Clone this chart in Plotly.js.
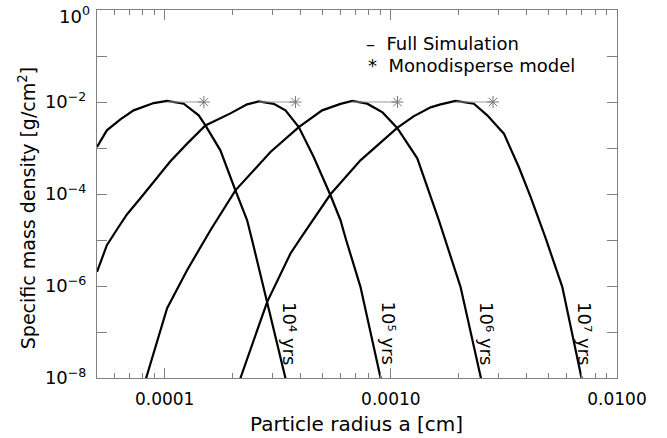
<!DOCTYPE html>
<html>
<head>
<meta charset="utf-8">
<script src="https://cdn.plot.ly/plotly-3.0.1.min.js"></script>
<style>html,body{margin:0;padding:0;background:#fff;}#chart{width:667px;height:438px;}</style>
</head>
<body>
<div id="chart"></div>
<script>
// Full simulation curves (particle radius [cm], specific mass density [g/cm^2])
const radius1e4 = [5.02e-5, 5.55e-5, 6.37e-5, 7.29e-5, 8.94e-5, 1.025e-4, 1.214e-4, 1.414e-4, 1.514e-4, 1.763e-4, 2.055e-4, 2.315e-4, 2.436e-4, 2.84e-4, 3.42e-4, 3.6e-4];
const density1e4 = [1.05e-3, 2.42e-3, 4.2e-3, 6.58e-3, 9.48e-3, 1.057e-2, 9.2e-3, 5.12e-3, 3.1e-3, 8.9e-4, 1.2e-4, 2.69e-5, 9.9e-6, 4.53e-7, 9.8e-9, 3.5e-9];

const radius1e5 = [5.02e-5, 5.55e-5, 6.16e-5, 6.82e-5, 7.81e-5, 9.10e-5, 1.06e-4, 1.26e-4, 1.514e-4, 1.953e-4, 2.315e-4, 2.606e-4, 3.035e-4, 3.42e-4, 3.917e-4, 4.56e-4, 5.41e-4, 5.99e-4, 6.31e-4, 7.34e-4, 9.0e-4, 9.38e-4];
const density1e5 = [2.03e-6, 7.7e-6, 1.71e-5, 3.63e-5, 8.09e-5, 2.09e-4, 5.14e-4, 1.26e-3, 3.1e-3, 5.66e-3, 8.87e-3, 1.03e-2, 9.1e-3, 6.58e-3, 2.85e-3, 6.37e-4, 9.4e-5, 2.69e-5, 1.09e-5, 9.6e-7, 1.02e-8, 4.1e-9];

const radius1e6 = [7.97e-5, 8.28e-5, 1.025e-4, 1.256e-4, 1.593e-4, 2.055e-4, 2.936e-4, 3.917e-4, 4.97e-4, 5.99e-4, 6.75e-4, 7.86e-4, 9.19e-4, 1.067e-3, 1.309e-3, 1.63e-3, 2.033e-3, 2.494e-3, 2.6e-3];
const density1e6 = [5.5e-9, 1.0e-8, 3.3e-7, 2.21e-6, 1.63e-5, 1.2e-4, 8.18e-4, 2.85e-3, 6.58e-3, 9.1e-3, 1.057e-2, 9.2e-3, 5.95e-3, 2.74e-3, 5.97e-4, 2.69e-5, 9.6e-7, 1.05e-8, 4.3e-9];

const radius1e7 = [2.076e-4, 2.163e-4, 2.84e-4, 3.6e-4, 3.985e-4, 5.41e-4, 7.34e-4, 1.067e-3, 1.26e-3, 1.499e-3, 1.66e-3, 1.933e-3, 2.329e-3, 2.67e-3, 3.162e-3, 3.68e-3, 4.15e-3, 4.84e-3, 5.73e-3, 6.96e-3, 7.2e-3];
const density1e7 = [5.5e-9, 1.0e-8, 4.53e-7, 5.09e-6, 1.08e-5, 9.87e-5, 5.4e-4, 2.74e-3, 4.88e-3, 7.64e-3, 8.87e-3, 1.057e-2, 9.2e-3, 5.12e-3, 2.05e-3, 3.86e-4, 8.63e-5, 1.08e-5, 9.6e-7, 1.02e-8, 4.7e-9];

// Monodisperse model: line from peak radius to model radius at the same density
const monoStart = [1.025e-4, 2.606e-4, 6.75e-4, 1.933e-3];
const monoRadius = [1.49e-4, 3.79e-4, 1.07e-3, 2.83e-3];
const monoDensity = [1.0e-2, 1.0e-2, 1.0e-2, 1.0e-2];

// Curve labels
const curveLabels = ['10⁴ yrs', '10⁵ yrs', '10⁶ yrs', '10⁷ yrs'];

// Axis ticks
const xTickVals = [1e-4, 1e-3, 1e-2];
const xTickText = ['0.0001', '0.0010', '0.0100'];
const xMinorVals = [6e-5, 7e-5, 8e-5, 9e-5, 2e-4, 3e-4, 4e-4, 5e-4, 6e-4, 7e-4, 8e-4, 9e-4, 2e-3, 3e-3, 4e-3, 5e-3, 6e-3, 7e-3, 8e-3, 9e-3];
const yTickVals = [1, 1e-1, 1e-2, 1e-3, 1e-4, 1e-5, 1e-6, 1e-7, 1e-8];
const yTickText = ['', '', '10<sup>−2</sup>', '', '10<sup>−4</sup>', '', '10<sup>−6</sup>', '', '10<sup>−8</sup>'];
const yTopLabel = '10<sup>0</sup>';

const FONT = 'DejaVu Sans, Verdana, sans-serif';
const grey = '#808080';

const curves = [[radius1e4, density1e4], [radius1e5, density1e5], [radius1e6, density1e6], [radius1e7, density1e7]];
const traces = curves.map(c => ({
  x: c[0], y: c[1], type: 'scatter', mode: 'lines',
  line: {color: '#000', width: 2.2}, showlegend: false, hoverinfo: 'skip'
}));

// monodisperse lines
const mx = [], my = [];
for (let i = 0; i < monoStart.length; i++) {
  mx.push(monoStart[i], monoRadius[i], null);
  my.push(monoDensity[i], monoDensity[i], null);
}
traces.push({x: mx, y: my, type: 'scatter', mode: 'lines', line: {color: '#9a9a9a', width: 1}, showlegend: false, hoverinfo: 'skip'});
traces.push({x: monoRadius, y: monoDensity, type: 'scatter', mode: 'markers',
  marker: {symbol: 'asterisk-open', size: 10, color: '#777', line: {color: '#777', width: 1}}, showlegend: false, hoverinfo: 'skip'});

const L = 97, R = 617, T = 9.5, B = 378;
const px = v => (v - L) / (R - L);
const py = v => (B - v) / (B - T);

const labelX = [290, 388.5, 487, 585];
const annotations = curveLabels.map((t, i) => ({
  text: t, xref: 'paper', yref: 'paper', x: px(labelX[i]), y: py(333),
  xanchor: 'center', yanchor: 'middle', textangle: 90, showarrow: false,
  font: {family: FONT, size: 18, color: '#000'}
}));
annotations.push({text: '–  Full Simulation', xref: 'paper', yref: 'paper', x: px(364), y: py(43),
  xanchor: 'left', yanchor: 'middle', showarrow: false, font: {family: FONT, size: 18, color: '#000'}});
annotations.push({text: '*  Monodisperse model', xref: 'paper', yref: 'paper', x: px(366), y: py(65),
  xanchor: 'left', yanchor: 'middle', showarrow: false, font: {family: FONT, size: 18, color: '#000'}});
annotations.push({text: 'Particle radius a [cm]', xref: 'paper', yref: 'paper', x: px(356), y: py(424),
  xanchor: 'center', yanchor: 'middle', showarrow: false, font: {family: FONT, size: 20, color: '#000'}});
annotations.push({text: 'Specific mass density [g/cm<sup>2</sup>]', xref: 'paper', yref: 'paper', x: px(27), y: py(208),
  xanchor: 'center', yanchor: 'middle', textangle: -90, showarrow: false, font: {family: FONT, size: 19, color: '#000'}});
annotations.push({text: yTopLabel, xref: 'paper', yref: 'paper', x: px(92), y: py(15),
  xanchor: 'right', yanchor: 'middle', showarrow: false, font: {family: FONT, size: 18, color: '#000'}});

const layout = {
  width: 667, height: 438,
  margin: {l: L, r: 667 - R, t: T, b: 438 - B},
  paper_bgcolor: '#fff', plot_bgcolor: '#fff',
  font: {family: FONT, size: 18, color: '#000'},
  xaxis: {
    type: 'log', range: [Math.log10(5.02e-5), -1.9999], tickvals: xTickVals, ticktext: xTickText,
    ticks: 'inside', ticklen: 10, tickwidth: 1, tickcolor: grey, showline: true, linecolor: grey, linewidth: 1,
    mirror: 'ticks', showgrid: false, zeroline: false, ticklabelstandoff: 6,
    tickfont: {family: FONT, size: 17, color: '#000'},
    minor: {tickvals: xMinorVals, ticks: 'inside', ticklen: 5, tickcolor: grey, tickwidth: 1, showgrid: false}
  },
  yaxis: {
    type: 'log', range: [-8.0001, 0.0001], tickvals: yTickVals, ticktext: yTickText,
    ticks: 'inside', ticklen: 10, tickwidth: 1, tickcolor: grey, showline: true, linecolor: grey, linewidth: 1,
    mirror: 'ticks', showgrid: false, zeroline: false, ticklabelstandoff: 6,
    tickfont: {family: FONT, size: 18, color: '#000'}
  },
  annotations: annotations
};

Plotly.newPlot('chart', traces, layout, {displayModeBar: false, staticPlot: true});
</script>
</body>
</html>
